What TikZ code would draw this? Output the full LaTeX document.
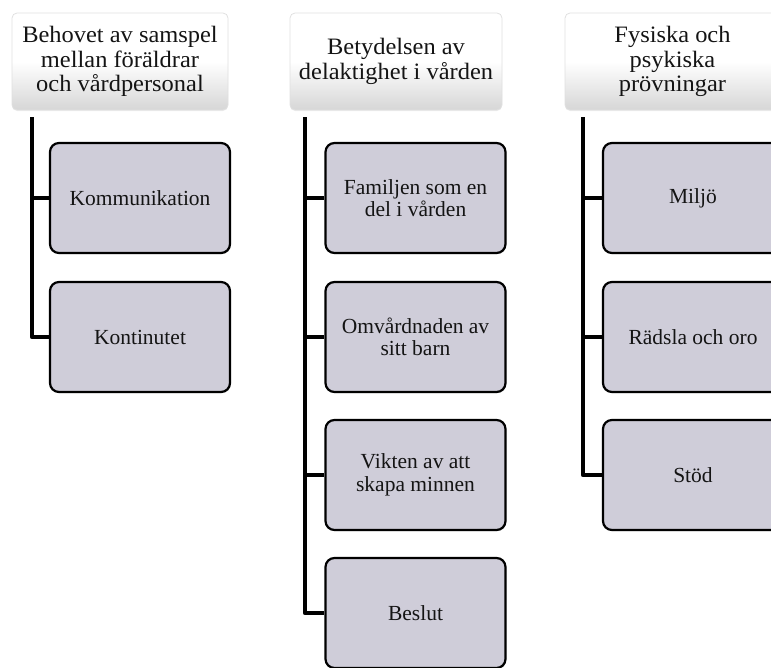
\documentclass[tikz,border=0pt]{standalone}
\usepackage{fontspec}
\setmainfont{Liberation Serif}
\newfontfamily\hdrfont{Liberation Serif}[FakeStretch=1.04]
\usetikzlibrary{shadows}
\definecolor{childfill}{RGB}{207,205,217}
\definecolor{txt}{RGB}{20,20,20}
\begin{document}
\begin{tikzpicture}[x=1pt,y=-1pt,
  hdr/.style={rounded corners=5pt, top color=white, bottom color=black!16, middle color=white,
    draw=black!12, line width=0.8pt, align=center, text=txt,
    font=\hdrfont\fontsize{23.5}{24.5}\selectfont, inner sep=0pt,
    drop shadow={shadow xshift=0pt, shadow yshift=-1pt, opacity=0.12}},
  kid/.style={rounded corners=9pt, fill=childfill, draw=black, line width=2.2pt,
    minimum width=180pt, minimum height=110pt, align=center, text=txt,
    font=\fontsize{21.5}{22.5}\selectfont, inner sep=0pt,
    drop shadow={shadow xshift=0.8pt, shadow yshift=-1.2pt, opacity=0.3}},
  conn/.style={line width=4.5pt, line join=round}]
\useasboundingbox (0,0) rectangle (771,667);
\clip (0,0) rectangle (771,667);

% headers
\node[hdr, minimum width=216pt, minimum height=97pt] (h1) at (120,61.5) {Behovet av samspel\\mellan föräldrar\\och vårdpersonal};
\node[hdr, minimum width=212pt, minimum height=97pt] (h2) at (396,61.5) {Betydelsen av\\delaktighet i vården};
\node[hdr, minimum width=215pt, minimum height=97pt] (h3) at (672.5,61.5) {Fysiska och\\psykiska\\prövningar};

% trunk tops
\coordinate (t1) at (32,117);
\coordinate (t2) at (305,117);
\coordinate (t3) at (583,117);

% children column 1
\node[kid] (k11) at (140,198) {Kommunikation};
\node[kid] (k12) at (140,337) {Kontinutet};

% children column 2
\node[kid] (k21) at (415.5,198) {Familjen som en\\del i vården};
\node[kid] (k22) at (415.5,337) {Omvårdnaden av\\sitt barn};
\node[kid] (k23) at (415.5,475) {Vikten av att\\skapa minnen};
\node[kid] (k24) at (415.5,613) {Beslut};

% children column 3
\node[kid] (k31) at (693,198) {Miljö};
\node[kid] (k32) at (693,337) {Rädsla och oro};
\node[kid] (k33) at (693,475) {Stöd};

% connectors
\draw[conn] (t1) |- (k12.west);
\draw[conn] (t1 |- k11.west) -- (k11.west);

\draw[conn] (t2) |- (k24.west);
\draw[conn] (t2 |- k21.west) -- (k21.west);
\draw[conn] (t2 |- k22.west) -- (k22.west);
\draw[conn] (t2 |- k23.west) -- (k23.west);

\draw[conn] (t3) |- (k33.west);
\draw[conn] (t3 |- k31.west) -- (k31.west);
\draw[conn] (t3 |- k32.west) -- (k32.west);
\end{tikzpicture}
\end{document}
